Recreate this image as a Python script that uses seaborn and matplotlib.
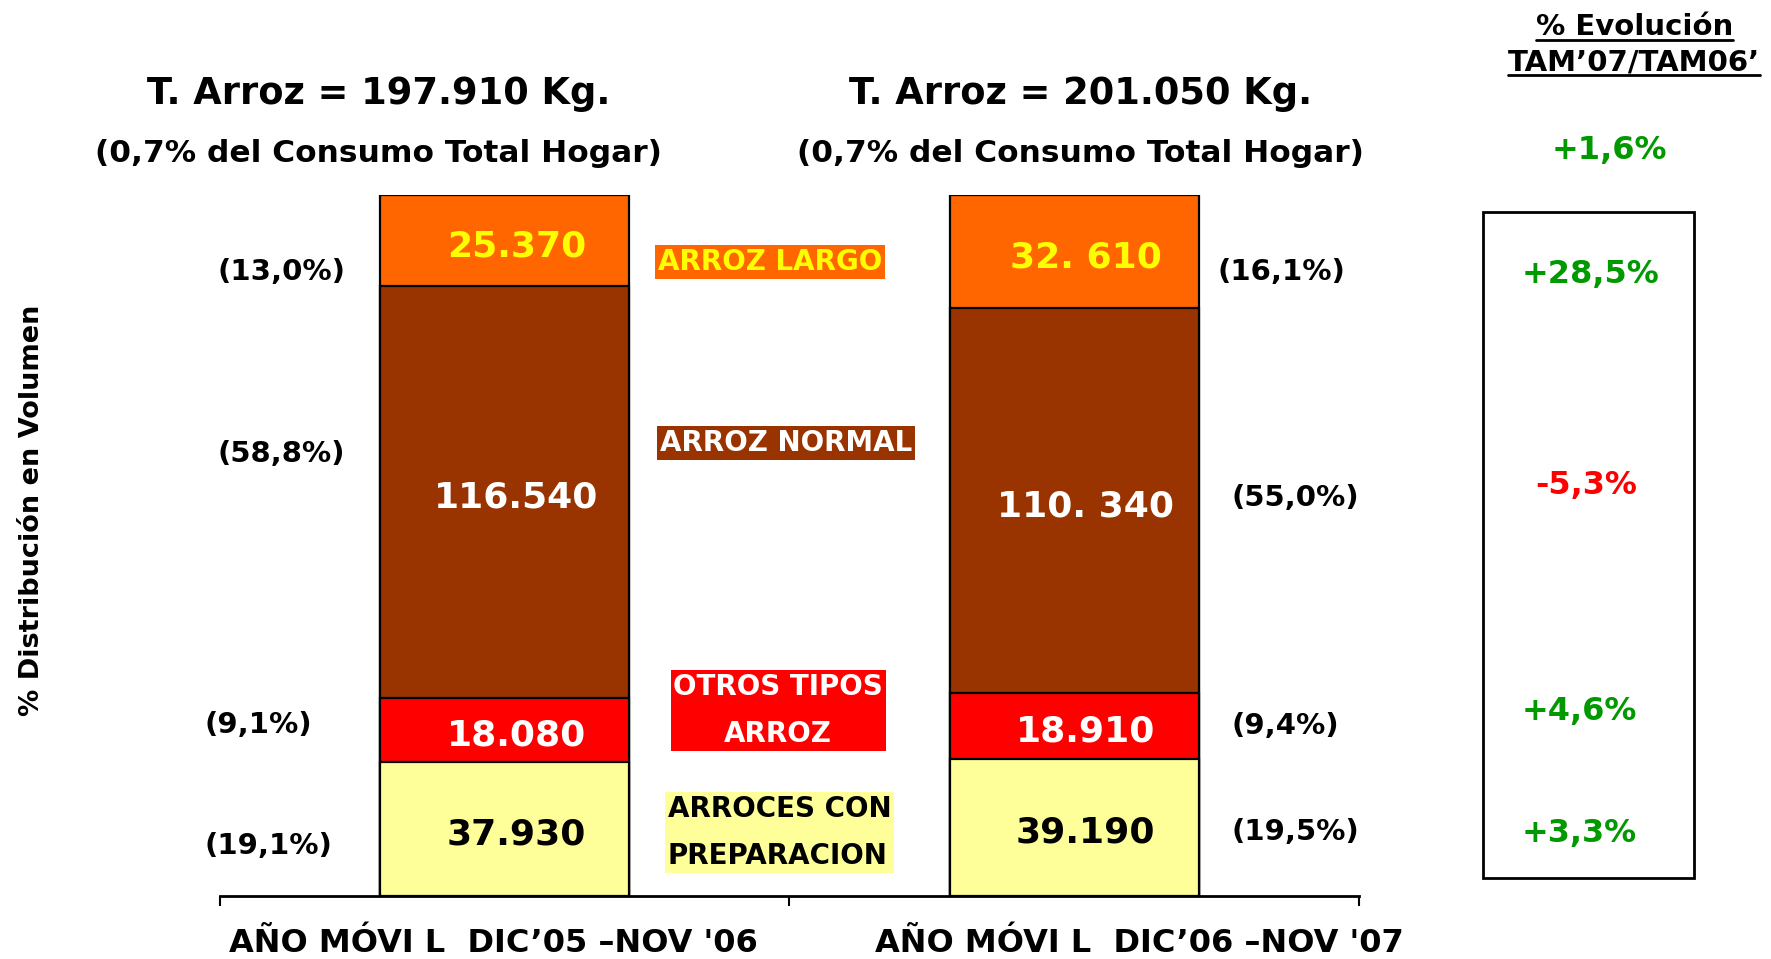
import matplotlib
matplotlib.use("Agg")
import matplotlib.pyplot as plt
import seaborn as sns
import pandas as pd
import numpy as np
from matplotlib.patches import Rectangle
from matplotlib.lines import Line2D

# ---------------- data ----------------
periods = ["P1", "P2"]
segments = ["ARROCES CON\nPREPARACION", "OTROS TIPOS\nARROZ", "ARROZ NORMAL", "ARROZ LARGO"]  # bottom -> top
share_p1 = [19.1, 9.1, 58.8, 13.0]
share_p2 = [19.5, 9.4, 55.0, 16.1]
kg_p1 = ["37.930", "18.080", "116.540", "25.370"]
kg_p2 = ["39.190", "18.910", "110. 340", "32. 610"]
evolution = ["+3,3%", "+4,6%", "-5,3%", "+28,5%"]
total_evolution = "+1,6%"
totals = ["197.910", "201.050"]
share_total = "0,7%"
cat_labels = ["AÑO MÓVI L  DIC’05 –NOV '06", "AÑO MÓVI L  DIC’06 –NOV '07"]

seg_colors = ["#FFFF99", "#FF0000", "#993300", "#FF6600"]
val_colors = ["black", "white", "white", "#FFFF00"]
leg_text_colors = ["black", "white", "white", "#FFFF00"]
GREEN = "#009900"

W, H = 1771, 959
S = W / 1568.0  # reference display -> full px


def fx(x):
    return x * S / W


def fy(y):
    return 1 - y * S / H


sns.set_theme(style="white")
plt.rcParams["font.family"] = ["DejaVu Sans"]
plt.rcParams["font.weight"] = "bold"
plt.rcParams["text.color"] = "black"

fig = plt.figure(figsize=(W / 100, H / 100), dpi=100)
ax = fig.add_axes([fx(195), fy(793), fx(1203) - fx(195), fy(173) - fy(793)])

rows = []
for p, shares in zip(periods, [share_p1, share_p2]):
    cum = np.cumsum(shares)
    for s, v, c in zip(segments, shares, cum):
        rows.append({"period": p, "segment": s, "share": v, "cum": c})
df = pd.DataFrame(rows)

# stacked bars: draw cumulative heights from the top layer down
for i in reversed(range(len(segments))):
    sub = df[df["segment"] == segments[i]]
    sns.barplot(data=sub, x="period", y="cum", order=periods, color=seg_colors[i],
                saturation=1, width=0.437, edgecolor="black", linewidth=1.6,
                errorbar=None, ax=ax)

ax.set_xlim(-0.5, 1.5)
ax.set_ylim(0, 100)
for side in ["left", "right", "top"]:
    ax.spines[side].set_visible(False)
ax.spines["bottom"].set_linewidth(2)
ax.spines["bottom"].set_color("black")
ax.set_yticks([])
ax.set_xticks([-0.5, 0.5, 1.5])
ax.set_xticklabels([])
ax.tick_params(axis="x", direction="out", length=7, width=1.5, color="black", bottom=True)
ax.set_xlabel("")
ax.set_ylabel("")

# values inside the bars
for j, (shares, kgs) in enumerate([(share_p1, kg_p1), (share_p2, kg_p2)]):
    cum = np.concatenate([[0], np.cumsum(shares)])
    for i in range(len(segments)):
        ymid = (cum[i] + cum[i + 1]) / 2 - 0.8
        ax.text(j + 0.02, ymid, kgs[i], ha="center", va="center", fontsize=26,
                fontweight="bold", color=val_colors[i])


def pct(v):
    return "(" + f"{v:.1f}".replace(".", ",") + "%)"


# percentage labels (left of bar 1, right of bar 2)
left_pos = [(181, 749), (181, 642), (193, 402), (193, 241)]
for (x, y), v in zip(left_pos, share_p1):
    fig.text(fx(x), fy(y), pct(v), ha="left", va="center", fontsize=21, fontweight="bold")
right_pos = [(1090, 737), (1090, 643), (1090, 441), (1078, 241)]
for (x, y), v in zip(right_pos, share_p2):
    fig.text(fx(x), fy(y), pct(v), ha="left", va="center", fontsize=21, fontweight="bold")

# titles
for cx, tot in zip([335, 957], totals):
    fig.text(fx(cx), fy(83), f"T. Arroz = {tot} Kg.", ha="center", va="center",
             fontsize=26.5, fontweight="bold")
    fig.text(fx(cx), fy(136), f"({share_total} del Consumo Total Hogar)", ha="center",
             va="center", fontsize=22.5, fontweight="bold")

# category labels
for cx, lab in zip([437, 1009], cat_labels):
    fig.text(fx(cx), fy(835), lab, ha="center", va="center", fontsize=23, fontweight="bold")

# y label
fig.text(fx(28), fy(452), "% Distribución en Volumen", rotation=90, ha="center",
         va="center", fontsize=19.5, fontweight="bold")

# legend-like labels between bars
leg_pos = [(591, 737, "left"), (689, 629, "center"), (696, 392, "center"), (682, 232, "center")]
for i, (x, y, ha) in enumerate(leg_pos):
    fig.text(fx(x), fy(y), segments[i], ha=ha, va="center", fontsize=20,
             fontweight="bold", color=leg_text_colors[i], linespacing=1.85,
             multialignment="left" if ha == "left" else "center",
             bbox=dict(boxstyle="square,pad=0.1", facecolor=seg_colors[i], edgecolor="none"))

# evolution column
h1 = fig.text(fx(1447), fy(24), "% Evolución", ha="center", va="center", fontsize=21, fontweight="bold")
h2 = fig.text(fx(1447), fy(55), "TAM’07/TAM06’", ha="center", va="center", fontsize=21, fontweight="bold")
fig.text(fx(1425), fy(133), total_evolution, ha="center", va="center", fontsize=23,
         fontweight="bold", color=GREEN)
fig.add_artist(Rectangle((fx(1313), fy(777)), fx(1500) - fx(1313), fy(188) - fy(777),
                         transform=fig.transFigure, facecolor="none", edgecolor="black",
                         linewidth=2))
evo_pos = [(1398, 738), (1398, 630), (1404, 430), (1408, 243)]
for (x, y), e in zip(evo_pos, evolution):
    fig.text(fx(x), fy(y), e, ha="center", va="center", fontsize=23, fontweight="bold",
             color=(GREEN if e.startswith("+") else "#FF0000"))

# underline headers
fig.canvas.draw()
r = fig.canvas.get_renderer()
for t in (h1, h2):
    bb = t.get_window_extent(renderer=r)
    yline = (bb.y0 + 1) / H
    fig.add_artist(Line2D([bb.x0 / W, bb.x1 / W], [yline, yline], transform=fig.transFigure,
                          color="black", linewidth=2))

fig.savefig("out.png", dpi=100, facecolor="white")
